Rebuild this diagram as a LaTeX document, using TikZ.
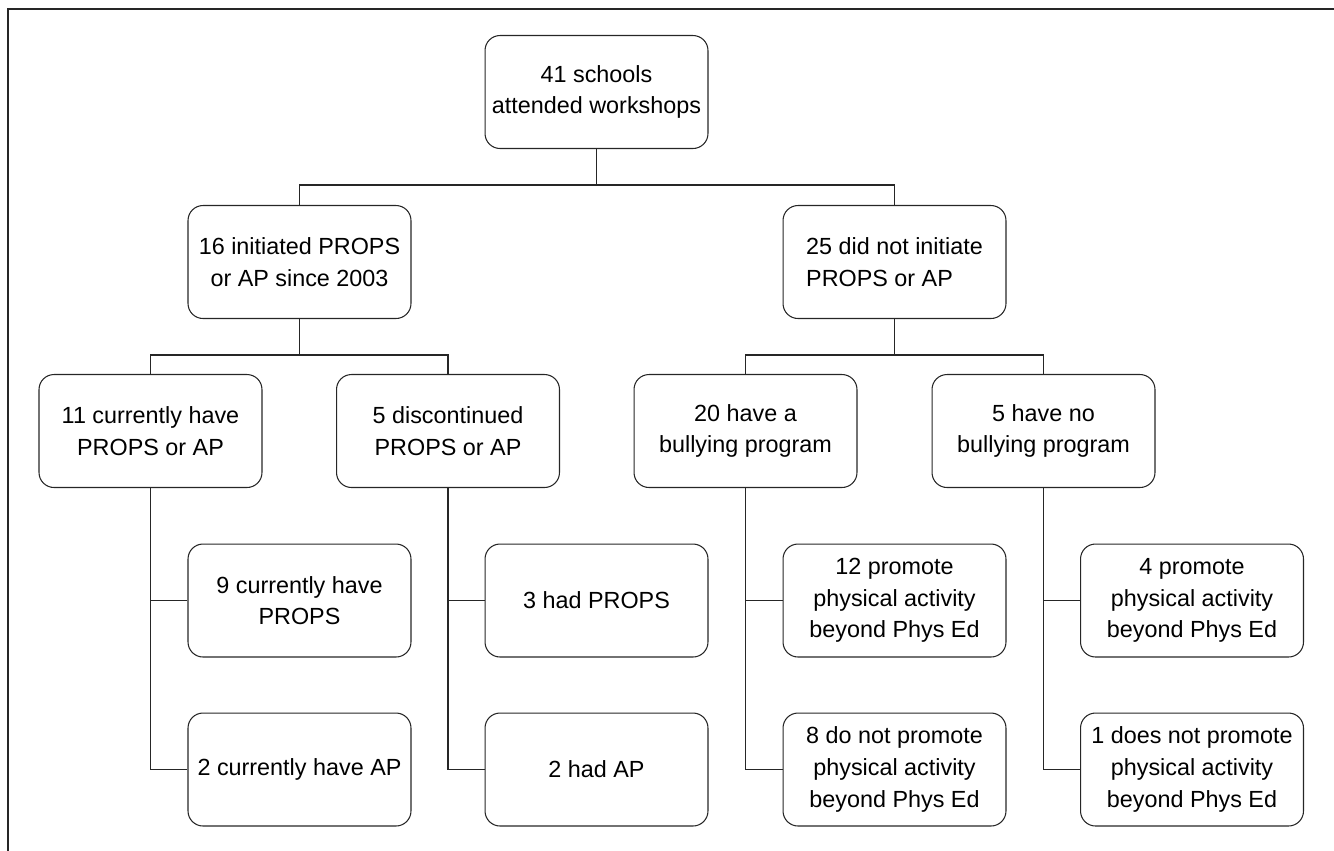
\documentclass[tikz,border=0pt]{standalone}
\usepackage{fontspec}
\setmainfont{Liberation Sans}
\usetikzlibrary{positioning}

\begin{document}
\begin{tikzpicture}[x=0.02cm,y=-0.02cm,
    box/.style={draw=black!85,line width=0.6pt,rounded corners=0.3cm,
      minimum width=4.46cm,minimum height=2.26cm,inner sep=1pt,
      align=center,font=\fontsize{13.3}{18}\selectfont},
    link/.style={draw=black!85,line width=1.1pt}]
    \useasboundingbox (0,0) rectangle (1334,850);
    \draw[line width=0.8pt,black!85] (8,860) -- (8,9) -- (1340,9);
    \node[box] (all) at (596.5,92) {41 schools\\attended workshops};
    \node[box] (init) at (299.5,262) {16 initiated PROPS\\or AP since 2003};
    \node[box,align=left] (noinit) at (894.5,262) {25 did not initiate\\PROPS or AP};
    \node[box] (cur) at (150.5,431) {11 currently have\\PROPS or AP};
    \node[box] (disc) at (448,431) {5 discontinued\\PROPS or AP};
    \node[box] (bully) at (745.5,431) {20 have a\\bullying program};
    \node[box] (nobully) at (1043.5,431) {5 have no\\bullying program};
    \node[box] (curP) at (299.5,600.5) {9 currently have\\PROPS};
    \node[box] (curA) at (299.5,769.5) {2 currently have AP};
    \node[box] (discP) at (596.5,600.5) {3 had PROPS};
    \node[box] (discA) at (596.5,769.5) {2 had AP};
    \node[box] (bullyY) at (894.5,600.5) {12 promote\\physical activity\\beyond Phys Ed};
    \node[box] (bullyN) at (894.5,769.5) {8 do not promote\\physical activity\\beyond Phys Ed};
    \node[box] (nobullyY) at (1192,600.5) {4 promote\\physical activity\\beyond Phys Ed};
    \node[box] (nobullyN) at (1192,769.5) {1 does not promote\\physical activity\\beyond Phys Ed};
    \draw[link] (all.south) -- ++(0,36) coordinate (j0);
    \draw[link] (init.north) |- (j0) -| (noinit.north);
    \draw[link] (init.south) -- ++(0,36) coordinate (j1);
    \draw[link] (cur.north) |- (j1) -| (disc.north);
    \draw[link] (noinit.south) -- ++(0,36) coordinate (j2);
    \draw[link] (bully.north) |- (j2) -| (nobully.north);
    \foreach \p/\a/\b in {cur/curP/curA,disc/discP/discA,bully/bullyY/bullyN,nobully/nobullyY/nobullyN}{
      \draw[link] (\p.south) |- (\b.west);
      \draw[link] (\a.west) -- (\a.west -| \p.south);
    }
\end{tikzpicture}
\end{document}
